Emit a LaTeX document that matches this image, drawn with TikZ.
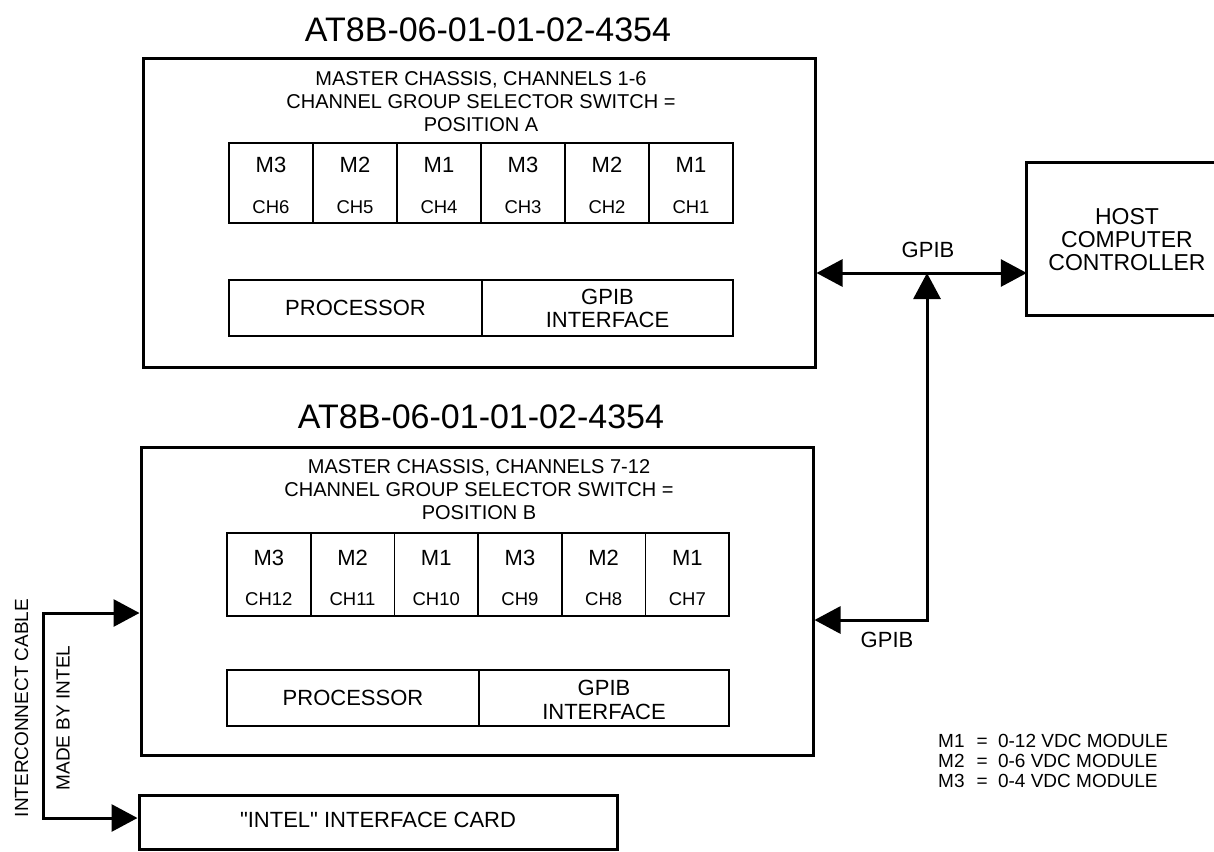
\documentclass[tikz,border=0pt]{standalone}
\usepackage{fontspec}
\setmainfont{Liberation Sans}[Ligatures=TeXOff]
\usetikzlibrary{arrows.meta}
\newcommand\myfs[2]{\fontsize{#1pt}{#2pt}\selectfont}
\begin{document}
\begin{tikzpicture}[x=1pt,y=-1pt,
  >={Triangle[length=26pt,width=27pt]},
  outerbox/.style={draw, line width=3pt, inner sep=0pt},
  cellbox/.style={draw, line width=1.8pt, inner sep=0pt},
  conn/.style={line width=3pt},
  ttl/.style={font=\myfs{34}{40}, inner sep=0pt},
  hdr/.style={font=\myfs{20}{23}, align=center, inner sep=0pt},
  mlab/.style={font=\myfs{22}{24}, inner sep=0pt},
  chlab/.style={font=\myfs{18.5}{22}, inner sep=0pt},
  blab/.style={font=\myfs{22}{23.5}, align=center, inner sep=0pt},
  hostlab/.style={font=\myfs{23}{23}, align=center, inner sep=0pt},
  sidelab/.style={font=\myfs{19}{22}, rotate=90, inner sep=0pt},
  leglab/.style={font=\myfs{19}{20}, inner sep=0pt, anchor=base west}]
\useasboundingbox[fill=white] (0,0) rectangle (1214,851);

% ---------- top chassis ----------
\node[ttl] (titleA) at (488,30) {AT8B-06-01-01-02-4354};
\node[outerbox, minimum width=672pt, minimum height=308pt] (boxA) at (479,213) {};
\node[hdr] (hdrA) at (481,101.5) {MASTER CHASSIS, CHANNELS 1-6\\CHANNEL GROUP SELECTOR SWITCH =\\POSITION A};
\foreach \i/\m/\c in {0/M3/CH6,1/M2/CH5,2/M1/CH4,3/M3/CH3,4/M2/CH2,5/M1/CH1}{
  \node[cellbox, minimum width=84pt, minimum height=80pt] (cA\i) at ({271+84*\i},183) {};
  \node[mlab] (mA\i) at ({271+84*\i},165) {\m};
  \node[chlab] (chA\i) at ({271+84*\i},207) {\c};
}
\node[cellbox, minimum width=253pt, minimum height=56pt] (procA) at (355.5,308) {};
\node[cellbox, minimum width=251pt, minimum height=56pt] (gpibA) at (607.5,308) {};
\node[blab] (procAt) at (355.5,308) {PROCESSOR};
\node[blab] (gpibAt) at (607.5,308.5) {GPIB\\INTERFACE};

% ---------- bottom chassis ----------
\node[ttl] (titleB) at (481,417) {AT8B-06-01-01-02-4354};
\node[outerbox, minimum width=672pt, minimum height=308pt] (boxB) at (477,601) {};
\node[hdr] (hdrB) at (479,490) {MASTER CHASSIS, CHANNELS 7-12\\CHANNEL GROUP SELECTOR SWITCH =\\POSITION B};
\foreach \i/\m/\c in {0/M3/CH12,1/M2/CH11,2/M1/CH10,3/M3/CH9,4/M2/CH8,5/M1/CH7}{
  \node[cellbox, minimum width=83.7pt, minimum height=83pt] (cB\i) at ({268.85+83.7*\i},574.5) {};
  \node[mlab] (mB\i) at ({268.85+83.7*\i},557.5) {\m};
  \node[chlab] (chB\i) at ({268.85+83.7*\i},599) {\c};
}
\node[cellbox, minimum width=252pt, minimum height=56pt] (procB) at (353,698) {};
\node[cellbox, minimum width=250pt, minimum height=56pt] (gpibB) at (604,698) {};
\node[blab] (procBt) at (353,698) {PROCESSOR};
\node[blab] (gpibBt) at (604,700) {GPIB\\INTERFACE};

% ---------- host ----------
\node[inner sep=0pt, minimum width=187pt, minimum height=152pt] (host) at (1120.5,239) {};
\draw[line width=3pt] (host.north east) -- (host.north west) -- (host.south west) -- (host.south east);
\node[hostlab] (hostt) at (1127,240) {HOST\\COMPUTER\\CONTROLLER};

% ---------- intel card ----------
\node[outerbox, minimum width=478pt, minimum height=54pt] (intel) at (378,822) {};
\node[blab] (intelt) at (378,820) {"INTEL" INTERFACE CARD};

% ---------- GPIB connectors ----------
\coordinate (j) at (927,273);
\coordinate (k) at (927,620);
\draw[conn,<->] (boxA.east |- j) -- (host.west |- j);
\draw[conn,<->] (boxB.east |- k) -- (k) -- (j);
\node[blab] (gpib1) at (928,250) {GPIB};
\node[blab] (gpib2) at (887,640) {GPIB};

% ---------- interconnect cable ----------
\coordinate (ct) at (43,613);
\coordinate (cb) at (43,818);
\draw[conn,<->] (boxB.west |- ct) -- (ct) -- (cb) -- (intel.west |- cb);
\node[sidelab] (cable) at (21.5,708) {INTERCONNECT CABLE};
\node[sidelab] (madeby) at (63,718) {MADE BY INTEL};

% ---------- legend ----------
\node[leglab] (leg1) at (938,747) {M1\hspace{12pt}=\hspace{10.4pt}0-12 VDC MODULE};
\node[leglab] (leg2) at (938,767) {M2\hspace{12pt}=\hspace{10.4pt}0-6 VDC MODULE};
\node[leglab] (leg3) at (938,787) {M3\hspace{12pt}=\hspace{10.4pt}0-4 VDC MODULE};
\end{tikzpicture}
\end{document}
